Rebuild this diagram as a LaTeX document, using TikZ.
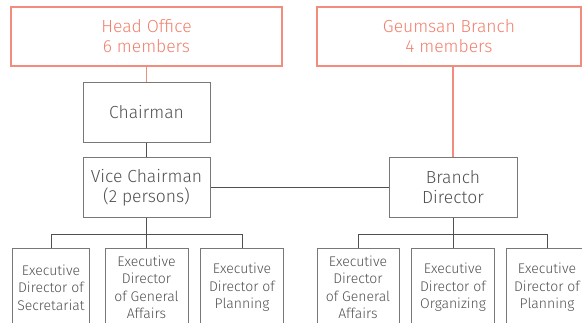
\documentclass[tikz,border=0pt]{standalone}
\usepackage{fontspec}
\IfFontExistsTF{Fira Sans Light}{\setmainfont{Fira Sans Light}}{\setmainfont{Fira Sans}}
\definecolor{salmon}{RGB}{240,128,110}
\definecolor{salmonline}{RGB}{242,140,125}
\definecolor{inkgray}{RGB}{80,80,80}
\definecolor{boxgray}{RGB}{120,120,120}
\tikzset{
  unitbox/.style={draw=salmonline,line width=1.2pt,text=salmon,align=center,minimum height=59pt,
    font=\fontsize{17.5}{20}\selectfont},
  postbox/.style={draw=boxgray,line width=1pt,text=inkgray,align=center,minimum width=127pt,minimum height=60pt,
    font=\fontsize{17.5}{20}\selectfont},
  deptbox/.style={draw=boxgray,line width=1pt,text=inkgray,align=center,anchor=north,minimum height=78pt,
    inner sep=1pt,font=\fontsize{14}{17.5}\selectfont},
  tie/.style={draw=salmonline,line width=1.3pt},
  link/.style={draw=inkgray,line width=1pt}
}
\begin{document}
\begin{tikzpicture}[x=1pt,y=-1pt]
  \useasboundingbox (0,0) rectangle (582,322);

  % offices
  \node[unitbox,minimum width=271pt,text depth=2pt] (head) at (146.5,36.5) {Head Office\\6 members};
  \node[unitbox,minimum width=264pt,text depth=2pt] (geum) at (449,36.5) {Geumsan Branch\\4 members};

  % head office posts
  \node[postbox] (chair) at (146.5,112) {Chairman};
  \node[postbox] (vice) at (146.5,187.5) {Vice Chairman\\(2 persons)};
  \node[postbox,minimum width=128pt] (branch) at (453,187.5) {Branch\\Director};

  % executive directors
  \node[deptbox,minimum width=77pt] (secr) at (51,248) {Executive\\Director of\\Secretariat};
  \node[deptbox,minimum width=83pt] (hgen) at (146.5,248) {Executive\\Director\\of General\\Affairs};
  \node[deptbox,minimum width=83pt] (hplan) at (242,248) {Executive\\Director of\\Planning};
  \node[deptbox,minimum width=82pt] (bgen) at (358,248) {Executive\\Director\\of General\\Affairs};
  \node[deptbox,minimum width=83pt] (borg) at (453,248) {Executive\\Director of\\Organizing};
  \node[deptbox,minimum width=82pt] (bplan) at (547,248) {Executive\\Director of\\Planning};

  \draw[tie] (head) -- (chair);
  \draw[tie] (geum.south -| branch) -- (branch);
  \draw[link] (chair) -- (vice);
  \draw[link] (vice) -- (branch);
  \draw[link] (vice) -- (hgen);
  \draw[link] (branch) -- (borg);
  \draw[link] (secr.north) -- ++(0,-14) -| (hplan.north);
  \draw[link] (bgen.north) -- ++(0,-14) -| (bplan.north);
\end{tikzpicture}
\end{document}
